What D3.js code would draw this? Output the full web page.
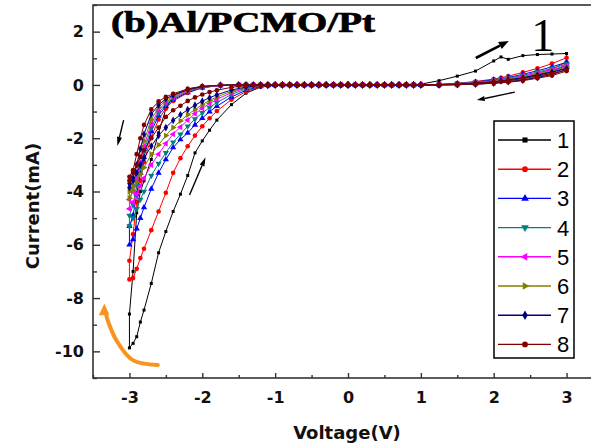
<!DOCTYPE html>
<html>
<head>
<meta charset="utf-8">
<script src="https://cdn.jsdelivr.net/npm/d3@7"></script>
<style>
  html, body { margin: 0; padding: 0; background: #fff; }
  svg { display: block; }
</style>
</head>
<body>
<svg id="chart" width="591" height="446"></svg>
<script>
// Applied voltage (V) at each step of one sweep: 0 -> +3 -> 0 -> -3 -> 0
const sweepV = [
  0, 0.1, 0.2, 0.3, 0.4, 0.5, 0.6, 0.7, 0.8, 0.9, 1.0, 1.25, 1.5, 1.75, 2.0, 2.1, 2.2, 2.4, 2.6, 2.8, 3.0,
  3.0, 2.8, 2.6, 2.4, 2.2, 2.0, 1.75, 1.5, 1.25, 1.0, 0.9, 0.8, 0.7, 0.6, 0.5, 0.4, 0.3, 0.2, 0.1, 0,
  -0.1, -0.2, -0.3, -0.4, -0.5, -0.6, -0.7, -0.8, -0.9, -1.0, -1.1, -1.2, -1.3, -1.4, -1.5,
  -1.75, -2.0, -2.2, -2.4, -2.5, -2.6, -2.7, -2.8, -2.85, -2.9, -2.95, -3.0, -3.0,
  -2.95, -2.9, -2.85, -2.8, -2.7, -2.6, -2.5, -2.4, -2.3, -2.2, -2.1, -2.0, -1.9, -1.8, -1.6, -1.4, -1.2,
  -1.1, -1.0, -0.9, -0.8, -0.7, -0.6, -0.5, -0.4, -0.3, -0.2, -0.1, 0
];

const cycleNames = ["1", "2", "3", "4", "5", "6", "7", "8"];

// Measured current (mA) for each cycle, one value per sweep step
const cycle1 = [
  0, 0, 0, 0, 0, 0, 0, 0, 0, 0, 0.03, 0.16, 0.33, 0.52, 0.9, 1.05, 0.96, 1.1, 1.14, 1.16, 1.18,
  0.74, 0.52, 0.38, 0.26, 0.17, 0.1, 0.05, 0.02, 0.01, 0, 0, 0, 0, 0, 0, 0, 0, 0, 0, 0,
  0, 0, 0, 0, 0, 0, 0, 0, 0, 0, 0, 0, 0, 0, 0,
  -0.02, -0.06, -0.15, -0.4, -0.9, -1.8, -2.8, -3.6, -4.0, -4.8, -7.0, -8.6, -9.87,
  -9.7, -9.45, -8.9, -8.45, -7.45, -6.3, -5.5, -4.75, -4.1, -3.4, -2.55, -2.1, -1.7, -1.32, -0.74, -0.31, -0.08,
  -0.04, -0.02, 0, 0, 0, 0, 0, 0, 0, 0, 0, 0
];
const cycle2 = [
  0, 0, 0, 0, 0, 0, 0, 0, 0, 0, 0, 0.02, 0.06, 0.13, 0.22, 0.27, 0.33, 0.47, 0.62, 0.8, 1.02,
  0.85, 0.6, 0.43, 0.3, 0.2, 0.12, 0.06, 0.02, 0.01, 0, 0, 0, 0, 0, 0, 0, 0, 0, 0, 0,
  0, 0, 0, 0, 0, 0, 0, 0, 0, 0, 0, 0, 0, 0, 0,
  -0.02, -0.1, -0.3, -0.6, -0.88, -1.3, -1.95, -2.9, -3.6, -4.4, -5.6, -6.6, -7.3,
  -7.25, -6.9, -6.5, -6.15, -5.45, -4.75, -4.05, -3.3, -2.75, -2.3, -1.9, -1.55, -1.25, -0.98, -0.55, -0.25, -0.07,
  -0.04, -0.02, 0, 0, 0, 0, 0, 0, 0, 0, 0, 0
];
const cycle3 = [
  0, 0, 0, 0, 0, 0, 0, 0, 0, 0, 0, 0.02, 0.05, 0.11, 0.19, 0.23, 0.28, 0.4, 0.53, 0.68, 0.85,
  0.75, 0.52, 0.38, 0.26, 0.17, 0.1, 0.05, 0.02, 0.01, 0, 0, 0, 0, 0, 0, 0, 0, 0, 0, 0,
  0, 0, 0, 0, 0, 0, 0, 0, 0, 0, 0, 0, 0, 0, 0,
  -0.02, -0.1, -0.28, -0.55, -0.8, -1.15, -1.75, -2.7, -3.3, -4.1, -4.9, -5.3, -6.0,
  -5.8, -5.4, -5.0, -4.6, -3.9, -3.3, -2.8, -2.35, -2.05, -1.8, -1.5, -1.25, -1.0, -0.8, -0.45, -0.2, -0.05,
  -0.02, -0.01, 0, 0, 0, 0, 0, 0, 0, 0, 0, 0
];
const cycle4 = [
  0, 0, 0, 0, 0, 0, 0, 0, 0, 0, 0, 0.01, 0.05, 0.1, 0.17, 0.21, 0.25, 0.36, 0.48, 0.62, 0.78,
  0.7, 0.48, 0.35, 0.24, 0.16, 0.09, 0.04, 0.02, 0.01, 0, 0, 0, 0, 0, 0, 0, 0, 0, 0, 0,
  0, 0, 0, 0, 0, 0, 0, 0, 0, 0, 0, 0, 0, 0, 0,
  -0.02, -0.09, -0.25, -0.5, -0.72, -1.05, -1.6, -2.5, -3.1, -3.8, -4.5, -4.9, -5.3,
  -5.0, -4.65, -4.3, -4.0, -3.4, -2.95, -2.55, -2.15, -1.85, -1.55, -1.28, -1.05, -0.85, -0.66, -0.36, -0.15, -0.04,
  -0.02, -0.01, 0, 0, 0, 0, 0, 0, 0, 0, 0, 0
];
const cycle5 = [
  0, 0, 0, 0, 0, 0, 0, 0, 0, 0, 0, 0.01, 0.04, 0.09, 0.15, 0.19, 0.23, 0.33, 0.44, 0.57, 0.72,
  0.66, 0.45, 0.32, 0.22, 0.14, 0.08, 0.04, 0.01, 0, 0, 0, 0, 0, 0, 0, 0, 0, 0, 0, 0,
  0, 0, 0, 0, 0, 0, 0, 0, 0, 0, 0, 0, 0, 0, 0,
  -0.02, -0.08, -0.22, -0.46, -0.65, -0.95, -1.45, -2.3, -2.9, -3.5, -4.0, -4.3, -4.65,
  -4.4, -4.1, -3.8, -3.5, -3.0, -2.6, -2.2, -1.85, -1.58, -1.32, -1.08, -0.88, -0.7, -0.54, -0.29, -0.12, -0.03,
  -0.01, 0, 0, 0, 0, 0, 0, 0, 0, 0, 0, 0
];
const cycle6 = [
  0, 0, 0, 0, 0, 0, 0, 0, 0, 0, 0, 0.01, 0.04, 0.08, 0.14, 0.17, 0.21, 0.3, 0.41, 0.53, 0.67,
  0.62, 0.42, 0.3, 0.2, 0.13, 0.07, 0.03, 0.01, 0, 0, 0, 0, 0, 0, 0, 0, 0, 0, 0, 0,
  0, 0, 0, 0, 0, 0, 0, 0, 0, 0, 0, 0, 0, 0, 0,
  -0.01, -0.07, -0.2, -0.42, -0.58, -0.85, -1.3, -2.1, -2.7, -3.3, -3.8, -4.0, -4.25,
  -3.95, -3.65, -3.35, -3.1, -2.6, -2.25, -1.9, -1.6, -1.35, -1.12, -0.92, -0.74, -0.58, -0.45, -0.24, -0.1, -0.03,
  -0.01, 0, 0, 0, 0, 0, 0, 0, 0, 0, 0, 0
];
const cycle7 = [
  0, 0, 0, 0, 0, 0, 0, 0, 0, 0, 0, 0.01, 0.03, 0.07, 0.12, 0.15, 0.19, 0.27, 0.37, 0.48, 0.62,
  0.58, 0.39, 0.28, 0.18, 0.12, 0.07, 0.03, 0.01, 0, 0, 0, 0, 0, 0, 0, 0, 0, 0, 0, 0,
  0, 0, 0, 0, 0, 0, 0, 0, 0, 0, 0, 0, 0, 0, 0,
  -0.01, -0.06, -0.18, -0.38, -0.52, -0.75, -1.1, -1.85, -2.4, -3.0, -3.5, -3.7, -3.85,
  -3.6, -3.3, -3.0, -2.75, -2.3, -1.9, -1.6, -1.33, -1.12, -0.93, -0.76, -0.61, -0.48, -0.37, -0.19, -0.08, -0.02,
  -0.01, 0, 0, 0, 0, 0, 0, 0, 0, 0, 0, 0
];
const cycle8 = [
  0, 0, 0, 0, 0, 0, 0, 0, 0, 0, 0, 0.01, 0.03, 0.06, 0.11, 0.13, 0.16, 0.24, 0.33, 0.43, 0.55,
  0.52, 0.35, 0.25, 0.16, 0.1, 0.06, 0.03, 0.01, 0, 0, 0, 0, 0, 0, 0, 0, 0, 0, 0, 0,
  0, 0, 0, 0, 0, 0, 0, 0, 0, 0, 0, 0, 0, 0, 0,
  -0.01, -0.05, -0.15, -0.33, -0.45, -0.62, -0.92, -1.5, -2.0, -2.6, -3.2, -3.45, -3.6,
  -3.3, -3.0, -2.7, -2.45, -2.0, -1.6, -1.2, -0.95, -0.78, -0.6, -0.47, -0.36, -0.27, -0.2, -0.09, -0.03, -0.01,
  0, 0, 0, 0, 0, 0, 0, 0, 0, 0, 0, 0
];
const cycleCurrents = [cycle1, cycle2, cycle3, cycle4, cycle5, cycle6, cycle7, cycle8];

const xTickValues = [-3, -2, -1, 0, 1, 2, 3];
const yTickValues = [2, 0, -2, -4, -6, -8, -10];

// Styling per cycle
const cycleColors = ["#000000", "#ff0000", "#0000ff", "#008080", "#ff00ff", "#808000", "#000080", "#800000"];
const cycleSymbols = [d3.symbolSquare, d3.symbolCircle, d3.symbolTriangle, d3.symbolTriangle,
                      d3.symbolTriangle, d3.symbolTriangle, d3.symbolDiamond, d3.symbolCircle];
const cycleSymbolRotation = [0, 0, 0, 180, -90, 90, 0, 0];

const svg = d3.select("#chart");

const x = d3.scaleLinear().domain([-3.5, 3.5]).range([93, 603]);
const y = d3.scaleLinear().domain([-11, 3]).range([378, 5]);

const axisColor = "#333";
const tickFont = "'DejaVu Sans', Verdana, sans-serif";

// Plot frame (right edge runs past the window)
svg.append("rect")
  .attr("x", x(-3.5)).attr("y", y(3))
  .attr("width", x(3.5) - x(-3.5)).attr("height", y(-11) - y(3))
  .attr("fill", "none").attr("stroke", axisColor).attr("stroke-width", 1.6);

// Axes with inward ticks
const xAxis = svg.append("g").attr("transform", `translate(0,${y(-11)})`)
  .call(d3.axisBottom(x).tickValues(xTickValues).tickSize(-5).tickPadding(14).tickFormat(d3.format("d")));
const xMinor = svg.append("g").attr("transform", `translate(0,${y(-11)})`)
  .call(d3.axisBottom(x).tickValues(d3.range(-3.5, 3.51, 0.5).filter(v => !Number.isInteger(v))).tickSize(-3).tickFormat(""));
const yAxis = svg.append("g").attr("transform", `translate(${x(-3.5)},0)`)
  .call(d3.axisLeft(y).tickValues(yTickValues).tickSize(-7).tickPadding(9).tickFormat(d3.format("d")));
const yMinor = svg.append("g").attr("transform", `translate(${x(-3.5)},0)`)
  .call(d3.axisLeft(y).tickValues(d3.range(-11, 3.01, 1).filter(v => v % 2 !== 0)).tickSize(-4).tickFormat(""));

[xAxis, xMinor, yAxis, yMinor].forEach(g => {
  g.select(".domain").remove();
  g.selectAll(".tick line").attr("stroke", axisColor).attr("stroke-width", 1.4);
  g.selectAll("text")
    .attr("font-family", tickFont).attr("font-weight", "bold")
    .attr("font-size", 16).attr("fill", "#111");
});
xAxis.selectAll("text").text(d => d < 0 ? "-" + Math.abs(d) : d);
yAxis.selectAll("text").text(d => d < 0 ? "-" + Math.abs(d) : d);

// Axis titles
svg.append("text")
  .attr("x", 347).attr("y", 439)
  .attr("text-anchor", "middle")
  .attr("font-family", tickFont).attr("font-weight", "bold").attr("font-size", 18)
  .attr("fill", "#111")
  .text("Voltage(V)");
svg.append("text")
  .attr("transform", "translate(39,206) rotate(-90)")
  .attr("text-anchor", "middle")
  .attr("font-family", tickFont).attr("font-weight", "bold").attr("font-size", 18)
  .attr("fill", "#111")
  .text("Current(mA)");

// Panel title
svg.append("text")
  .attr("x", 111).attr("y", 32)
  .attr("font-family", "'Liberation Serif', 'Times New Roman', serif")
  .attr("font-weight", "bold").attr("font-size", 29)
  .attr("textLength", 264).attr("lengthAdjust", "spacingAndGlyphs")
  .attr("fill", "#000").attr("stroke", "#000").attr("stroke-width", 0.7)
  .text("(b)Al/PCMO/Pt");

// I-V loops, cycle 1 underneath, cycle 8 on top
const line = d3.line().x(d => x(d[0])).y(d => y(d[1]));
const plot = svg.append("g");

cycleCurrents.forEach((cur, i) => {
  const pts = sweepV.map((v, j) => [v, cur[j]]);
  const g = plot.append("g");
  g.append("path")
    .attr("d", line(pts))
    .attr("fill", "none")
    .attr("stroke", cycleColors[i])
    .attr("stroke-width", 1);
  const sym = d3.symbol().type(cycleSymbols[i]).size(i === 0 ? 9 : 17);
  g.selectAll("path.pt").data(pts).join("path")
    .attr("class", "pt")
    .attr("d", sym)
    .attr("transform", d => `translate(${x(d[0])},${y(d[1])}) rotate(${cycleSymbolRotation[i]})`)
    .attr("fill", cycleColors[i]);
});

// Sweep direction arrows (positions in data units)
function arrow(p0, p1, width, headLen, headW, color) {
  const x0 = x(p0[0]), y0 = y(p0[1]), x1 = x(p1[0]), y1 = y(p1[1]);
  const dx = x1 - x0, dy = y1 - y0, L = Math.hypot(dx, dy);
  const ux = dx / L, uy = dy / L;
  const bx = x1 - ux * headLen, by = y1 - uy * headLen;
  svg.append("line")
    .attr("x1", x0).attr("y1", y0).attr("x2", bx).attr("y2", by)
    .attr("stroke", color).attr("stroke-width", width);
  svg.append("path")
    .attr("d", `M${x1},${y1}L${bx - uy * headW / 2},${by + ux * headW / 2}L${bx + uy * headW / 2},${by - ux * headW / 2}Z`)
    .attr("fill", color);
}
arrow([1.754, 1.01], [2.207, 1.65], 2.6, 10, 8, "#000");
arrow([2.29, -0.27], [1.768, -0.57], 1.4, 8, 5, "#000");
arrow([-3.08, -1.32], [-3.165, -2.29], 1.4, 9, 5, "#000");
arrow([-2.175, -4.13], [-1.955, -2.71], 1.4, 9, 5, "#000");

// Cycle 1 label
svg.append("text")
  .attr("x", x(2.674)).attr("y", y(1.27))
  .attr("text-anchor", "middle")
  .attr("font-family", "'Liberation Serif', 'Times New Roman', serif")
  .attr("font-size", 46)
  .attr("fill", "#000")
  .text("1");

// Orange curved arrow showing the decreasing peak current
const orangeCurve = [[-2.61, -10.51], [-2.954, -10.33], [-3.18, -9.58], [-3.30, -8.82], [-3.32, -8.62]];
svg.append("path")
  .attr("d", d3.line().x(d => x(d[0])).y(d => y(d[1])).curve(d3.curveCatmullRom)(orangeCurve))
  .attr("fill", "none").attr("stroke", "#f7941d").attr("stroke-width", 4).attr("stroke-linecap", "round");
{
  const tx = x(-3.345), ty = y(-8.2);
  svg.append("path")
    .attr("d", `M${tx},${ty}L${tx - 5.5},${ty + 12}L${tx + 5},${ty + 11}Z`)
    .attr("fill", "#f7941d");
}

// Legend
const legend = svg.append("g");
legend.append("rect")
  .attr("x", 494).attr("y", 121).attr("width", 80).attr("height", 237)
  .attr("fill", "#fff").attr("stroke", "#000").attr("stroke-width", 1.5);
cycleNames.forEach((name, i) => {
  const ly = 140 + i * 29.2;
  legend.append("line")
    .attr("x1", 498).attr("x2", 551).attr("y1", ly).attr("y2", ly)
    .attr("stroke", cycleColors[i]).attr("stroke-width", 1.4);
  legend.append("path")
    .attr("d", d3.symbol().type(cycleSymbols[i]).size(26)())
    .attr("transform", `translate(525,${ly}) rotate(${cycleSymbolRotation[i]})`)
    .attr("fill", cycleColors[i]);
  legend.append("text")
    .attr("x", 557).attr("y", ly).attr("dy", "0.36em")
    .attr("font-family", "'Liberation Sans', Arial, sans-serif")
    .attr("font-size", 22).attr("fill", "#000")
    .text(name);
});
</script>
</body>
</html>
